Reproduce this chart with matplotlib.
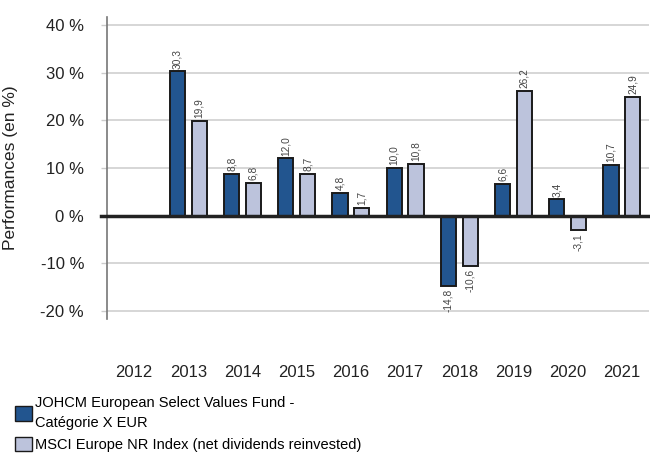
import matplotlib
matplotlib.use("Agg")
import matplotlib.pyplot as plt
from matplotlib.patches import Patch
import numpy as np

plt.rcParams['font.family'] = ['Liberation Sans', 'DejaVu Sans']

years = ["2012", "2013", "2014", "2015", "2016", "2017", "2018", "2019", "2020", "2021"]
fund = [np.nan, 30.3, 8.8, 12.0, 4.8, 10.0, -14.8, 6.6, 3.4, 10.7]
index = [np.nan, 19.9, 6.8, 8.7, 1.7, 10.8, -10.6, 26.2, -3.1, 24.9]

fund_label = "JOHCM European Select Values Fund -\nCatégorie X EUR"
index_label = "MSCI Europe NR Index (net dividends reinvested)"

dark = "#22558f"
light = "#bcc3dc"

fig = plt.figure(figsize=(6.5, 4.55), dpi=100)
ax = fig.add_axes([107 / 650, 1 - 319 / 455, 542 / 650, 302 / 455])

x = np.arange(len(years))
width = 0.28
off = 0.2

b1 = ax.bar(x - off, fund, width, color=dark, edgecolor="#1a1a1a", linewidth=1.4, zorder=3)
b2 = ax.bar(x + off, index, width, color=light, edgecolor="#1a1a1a", linewidth=1.4, zorder=3)

for bars, vals in ((b1, fund), (b2, index)):
    for bar, v in zip(bars, vals):
        if np.isnan(v):
            continue
        cx = bar.get_x() + bar.get_width() / 2
        txt = f"{v:.1f}".replace(".", ",")
        if v >= 0:
            ax.annotate(txt, xy=(cx, v), xytext=(0, 2), textcoords="offset points",
                        ha="center", va="bottom", rotation=90, fontsize=7.3, color="#444444")
        else:
            ax.annotate(txt, xy=(cx, v), xytext=(0, -2), textcoords="offset points",
                        ha="center", va="top", rotation=90, fontsize=7.3, color="#444444")

ax.set_xlim(-0.5, 9.5)
ax.set_ylim(-21.7, 41.7)
ax.set_yticks([-20, -10, 0, 10, 20, 30, 40])
ax.set_yticklabels([f"{t} %" for t in [-20, -10, 0, 10, 20, 30, 40]], fontsize=12, color="#222222")
ax.set_xticks(x)
ax.set_xticklabels(years, fontsize=12, color="#222222")
ax.tick_params(axis="x", length=0, pad=33)
ax.tick_params(axis="y", length=4.5, width=1, color="#cccccc", pad=12)

ax.yaxis.grid(True, color="#cccccc", linewidth=1.1, zorder=0)
ax.axhline(0, color="#222222", linewidth=2.5, zorder=4, xmin=-6 / 542, clip_on=False)

for s in ["top", "right", "bottom"]:
    ax.spines[s].set_visible(False)
ax.spines["left"].set_color("#777777")
ax.spines["left"].set_linewidth(1.2)

ax.set_ylabel("Performances (en %)", fontsize=12.5, color="#222222")
ax.yaxis.set_label_coords(-89 / 542, 0.5)

handles = [Patch(facecolor=dark, edgecolor="#1a1a1a", linewidth=1.0),
           Patch(facecolor=light, edgecolor="#1a1a1a", linewidth=1.0)]
leg = fig.legend(handles, [fund_label, index_label], loc="upper left",
                 bbox_to_anchor=(15 / 650, 1 - 396 / 455), frameon=False, fontsize=10.5,
                 handlelength=1.15, handleheight=1.15, handletextpad=0.2, labelspacing=0.45,
                 borderpad=0, borderaxespad=0)
leg.get_texts()[0].set_linespacing(1.55)

fig.savefig("out.png", dpi=100)
